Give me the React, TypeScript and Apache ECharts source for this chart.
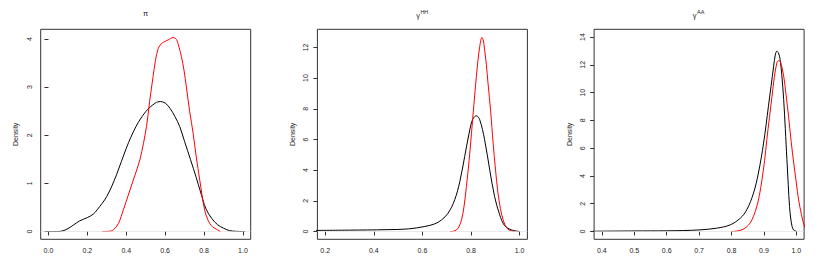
import React, { useEffect, useRef } from "react";
import * as echarts from "echarts";

// Panel 1: pi
const piBlackX = [-0.01, 0.04, 0.07, 0.1, 0.13, 0.16, 0.2, 0.23, 0.25, 0.3, 0.35, 0.4, 0.45, 0.5, 0.55, 0.575, 0.6, 0.625, 0.65, 0.675, 0.7, 0.73, 0.76, 0.78, 0.81, 0.84, 0.87, 0.9, 0.93, 0.96, 1.01];
const piBlackY = [0, 0, 0.01, 0.06, 0.14, 0.22, 0.29, 0.36, 0.45, 0.73, 1.18, 1.73, 2.18, 2.49, 2.67, 2.7, 2.67, 2.56, 2.39, 2.18, 1.87, 1.5, 1.12, 0.85, 0.47, 0.27, 0.14, 0.07, 0.02, 0.005, 0];
const piRedX = [0.277, 0.31, 0.333, 0.36, 0.385, 0.41, 0.436, 0.47, 0.504, 0.52, 0.538, 0.55, 0.564, 0.58, 0.59, 0.615, 0.641, 0.658, 0.67, 0.684, 0.697, 0.709, 0.726, 0.744, 0.76, 0.778, 0.79, 0.803, 0.816, 0.829, 0.846, 0.863, 0.885];
const piRedY = [0, 0.005, 0.03, 0.17, 0.45, 0.75, 1.07, 1.49, 2.18, 2.7, 3.22, 3.55, 3.8, 3.9, 3.93, 3.98, 4.03, 3.99, 3.85, 3.63, 3.35, 3.01, 2.5, 2.04, 1.55, 1.07, 0.75, 0.45, 0.28, 0.17, 0.09, 0.05, 0];

// Panel 2: gamma HH
const hhBlackX = [0.15, 0.3, 0.45, 0.542, 0.61, 0.651, 0.679, 0.706, 0.733, 0.754, 0.774, 0.795, 0.808, 0.822, 0.836, 0.856, 0.877, 0.897, 0.918, 0.938, 0.966, 1.0];
const hhBlackY = [0.07, 0.09, 0.12, 0.17, 0.33, 0.5, 0.76, 1.2, 2.07, 3.26, 4.89, 6.63, 7.35, 7.54, 7.28, 5.98, 4.02, 2.28, 1.09, 0.39, 0.11, 0];
const hhRedX = [0.713, 0.728, 0.74, 0.75, 0.761, 0.771, 0.781, 0.792, 0.802, 0.812, 0.822, 0.829, 0.836, 0.845, 0.85, 0.856, 0.863, 0.87, 0.881, 0.891, 0.901, 0.911, 0.921, 0.932, 0.942, 0.952, 0.965, 0.979];
const hhRedY = [0, 0.02, 0.1, 0.3, 0.76, 1.6, 2.93, 4.6, 6.41, 8.3, 10.1, 11.2, 12.07, 12.65, 12.5, 11.85, 10.9, 9.67, 7.8, 5.76, 4.0, 2.5, 1.5, 0.76, 0.38, 0.15, 0.05, 0];

// Panel 3: gamma AA
const aaBlackX = [0.37, 0.5, 0.6, 0.651, 0.703, 0.754, 0.796, 0.827, 0.847, 0.868, 0.883, 0.899, 0.914, 0.93, 0.935, 0.94, 0.945, 0.95, 0.955, 0.961, 0.966, 0.971, 0.975, 0.979, 0.983, 0.987, 0.992, 1.002];
const aaBlackY = [0.02, 0.04, 0.05, 0.07, 0.12, 0.24, 0.48, 0.96, 1.56, 2.77, 4.21, 6.37, 9.02, 11.9, 12.7, 12.99, 12.85, 12.39, 11.3, 9.5, 7.4, 5.17, 3.4, 1.8, 0.9, 0.36, 0.1, 0];
const aaRedX = [0.8, 0.815, 0.832, 0.845, 0.857, 0.868, 0.878, 0.886, 0.894, 0.902, 0.909, 0.917, 0.925, 0.932, 0.94, 0.945, 0.95, 0.961, 0.968, 0.976, 0.984, 0.992, 1.0, 1.007, 1.016, 1.025, 1.03];
const aaRedY = [0, 0.03, 0.12, 0.3, 0.6, 1.1, 1.8, 2.6, 3.73, 5.1, 6.62, 8.2, 9.74, 11.1, 12.15, 12.3, 12.27, 11.19, 9.9, 8.3, 6.5, 4.93, 3.5, 2.29, 1.2, 0.36, 0.2];

const xTicks1 = [0, 0.2, 0.4, 0.6, 0.8, 1.0];
const yTicks1 = [0, 1, 2, 3, 4];
const xTicks2 = [0.2, 0.4, 0.6, 0.8, 1.0];
const yTicks2 = [0, 2, 4, 6, 8, 10, 12];
const xTicks3 = [0.4, 0.5, 0.6, 0.7, 0.8, 0.9, 1.0];
const yTicks3 = [0, 2, 4, 6, 8, 10, 12, 14];

const FONT = '"Liberation Sans", Arial, Helvetica, sans-serif';

const zip = (xs: number[], ys: number[]) => xs.map((x, i) => [x, ys[i]]);

export default function App() {
  const ref = useRef<HTMLDivElement>(null);
  useEffect(() => {
    if (!ref.current) return;
    const chart = echarts.init(ref.current, null, { renderer: "svg" });
    const panels = [
      { left: 40.7, xr: [-0.04, 1.04], yr: [-0.1616, 4.2016], xt: xTicks1, yt: yTicks1, dec: 1, b: zip(piBlackX, piBlackY), r: zip(piRedX, piRedY) },
      { left: 317.4, xr: [0.168, 1.032], yr: [-0.507, 13.18], xt: xTicks2, yt: yTicks2, dec: 1, b: zip(hhBlackX, hhBlackY), r: zip(hhRedX, hhRedY) },
      { left: 594.1, xr: [0.376, 1.024], yr: [-0.56, 14.56], xt: xTicks3, yt: yTicks3, dec: 1, b: zip(aaBlackX, aaBlackY), r: zip(aaRedX, aaRedY) },
    ];
    const W = 210;
    const grids = panels.map((p) => ({
      left: p.left,
      width: W,
      top: 29.3,
      height: 210,
      show: true,
      borderColor: "#333",
      borderWidth: 1,
      backgroundColor: "transparent",
    }));
    const xAxes = panels.map((p, i) => ({
      type: "value",
      gridIndex: i,
      min: p.xr[0],
      max: p.xr[1],
      axisLine: { show: false },
      splitLine: { show: false },
      axisTick: { show: true, length: 4, customValues: p.xt, lineStyle: { color: "#333", width: 1 } },
      axisLabel: {
        show: true,
        customValues: p.xt,
        margin: 8,
        fontSize: 7,
        fontFamily: FONT,
        color: "#222",
        formatter: (v: number) => v.toFixed(p.dec),
      },
    }));
    const yAxes = panels.map((p, i) => ({
      type: "value",
      gridIndex: i,
      min: p.yr[0],
      max: p.yr[1],
      name: "Density",
      nameLocation: "middle",
      nameGap: 21.5,
      nameTextStyle: { fontSize: 7, fontFamily: FONT, color: "#222" },
      axisLine: { show: false },
      splitLine: { show: false },
      axisTick: { show: true, length: 4, customValues: p.yt, lineStyle: { color: "#333", width: 1 } },
      axisLabel: {
        show: true,
        customValues: p.yt,
        rotate: 90,
        margin: 8,
        fontSize: 7,
        fontFamily: FONT,
        color: "#222",
        formatter: (v: number) => String(v),
      },
    }));
    const series: any[] = [];
    panels.forEach((p, i) => {
      series.push({
        type: "line",
        xAxisIndex: i,
        yAxisIndex: i,
        data: p.b,
        showSymbol: false,
        smooth: 0.35,
        lineStyle: { color: "#000", width: 1 },
        z: 3,
        markLine: {
          silent: true,
          symbol: "none",
          label: { show: false },
          lineStyle: { color: "#dcdcdc", width: 0.6, type: "solid" },
          data: [{ yAxis: 0 }],
        },
      });
      series.push({
        type: "line",
        xAxisIndex: i,
        yAxisIndex: i,
        data: p.r,
        showSymbol: false,
        smooth: 0.35,
        lineStyle: { color: "#ff0000", width: 1 },
        z: 4,
      });
    });
    const cx = panels.map((p) => p.left + W / 2);
    const textStyle = (t: string, size: number, align: string) => ({
      text: t,
      font: `${size}px ${FONT}`,
      fill: "#222",
      align,
      verticalAlign: "middle",
    });
    const graphic = [
      { type: "text", x: cx[0], y: 13.5, style: textStyle("π", 7.5, "center") },
      { type: "text", x: cx[1] - 2.5, y: 15, style: textStyle("γ", 7.5, "right") },
      { type: "text", x: cx[1] - 2, y: 11.5, style: textStyle("HH", 5.5, "left") },
      { type: "text", x: cx[2] - 2.5, y: 15, style: textStyle("γ", 7.5, "right") },
      { type: "text", x: cx[2] - 2, y: 11.5, style: textStyle("AA", 5.5, "left") },
    ];
    chart.setOption({
      animation: false,
      backgroundColor: "#fff",
      grid: grids,
      xAxis: xAxes,
      yAxis: yAxes,
      series,
      graphic,
    } as any);
    return () => chart.dispose();
  }, []);
  return <div ref={ref} style={{ width: 830, height: 277, position: "absolute", left: 0, top: 0 }} />;
}
